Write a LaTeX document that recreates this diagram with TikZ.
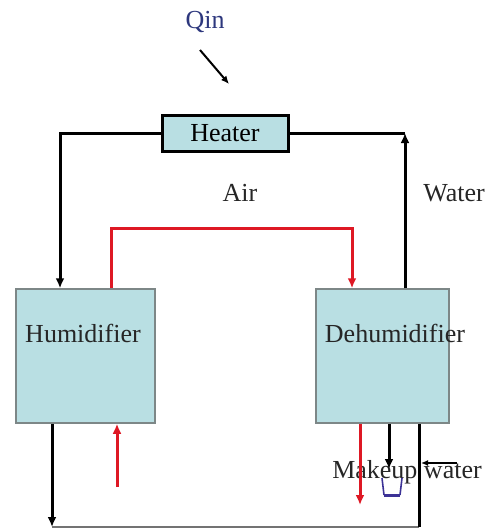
\documentclass[tikz,border=0pt]{standalone}
\usepackage{fontspec}
\setmainfont{Liberation Serif}
\usepackage{tikz}
\usetikzlibrary{arrows.meta,positioning}
\usepackage{xcolor}
\definecolor{UnitFill}{RGB}{185,223,227}
\definecolor{UnitLine}{RGB}{125,135,135}
\definecolor{AirRed}{RGB}{222,24,36}
\definecolor{QinBlue}{RGB}{45,55,125}
\definecolor{CupBlue}{RGB}{60,50,150}

\begin{document}
\begin{tikzpicture}[x=1pt,y=-1pt,font=\fontsize{26}{30}\selectfont,unit/.style={rectangle,draw=UnitLine,line width=1.5pt,fill=UnitFill,inner sep=0pt},heat/.style={rectangle,draw=black,line width=3pt,fill=UnitFill,inner sep=0pt,minimum width=126pt,minimum height=36pt},lbl/.style={inner sep=0pt,text=black!85},pipe/.style={draw=black,line width=3pt},arrow/.style={pipe,-{Latex[length=10pt,width=9pt]}},airarrow/.style={draw=AirRed,line width=3pt,-{Latex[length=10pt,width=9pt]}}]
\useasboundingbox (0,0) rectangle (491,528);
\node[lbl,text=QinBlue](qin) at (205,22){Qin};
\node[heat](heater) at (225,133){Heater};
\node[unit,minimum width=139pt,minimum height=134pt](hum) at (85.5,356){};
\node[unit,minimum width=133pt,minimum height=134pt](dehum) at (382.5,356){};
\node[lbl](humtxt) at (83,333){Humidifier};
\node[lbl](dehumtxt) at (395,333){Dehumidifier};
\node[lbl](air) at (240,193){Air};
\node[lbl](water) at (454,193){Water};
\node[lbl](makeup) at (407,472){Makeup water};
% free ends
\coordinate (q1) at (200,50);
\coordinate (q2) at (229,84);
\coordinate (wc) at (405,133);
\coordinate (ac) at (230,228);
\coordinate (bl) at (52,527);
\coordinate (br) at (419,527);
\coordinate (ru) at (117,487);
\coordinate (rd) at (360,505);
\coordinate (bk) at (389,469);
\coordinate (mw) at (457,463);
\coordinate (mwend) at (421,463);
% heat input
\draw[draw=black,line width=2pt,-{Latex[length=8pt,width=7pt]}](q1)--(q2);
% water loop
\draw[arrow](heater.west)-|([xshift=-25.5pt]hum.north);
\draw[arrow]([xshift=22.5pt]dehum.north)--(wc);
\draw[pipe](wc)--(heater.east);
% air loop
\draw[airarrow]([xshift=25.5pt]hum.north)|-(ac)-|([xshift=-30.5pt]dehum.north);
% bottom
\draw[arrow]([xshift=-33.5pt]hum.south)--(bl);
\draw[draw=black!55,line width=1.5pt](bl)--(br);
\draw[pipe](dehum.south-|br)--(br);
\draw[airarrow](ru)--(hum.south-|ru);
\draw[airarrow](dehum.south-|rd)--(rd);
\draw[arrow](dehum.south-|bk)--(bk);
\draw[draw=black,line width=1.3pt,-{Latex[length=7pt,width=6pt]}](mw)--(mwend);
% makeup cup
\draw[draw=CupBlue,line width=1.6pt](382,478)--(384,495);
\draw[draw=CupBlue,line width=1.6pt](402,478)--(400,495);
\draw[draw=CupBlue,line width=3pt](384,495)--(400,495);
\end{tikzpicture}
\end{document}
